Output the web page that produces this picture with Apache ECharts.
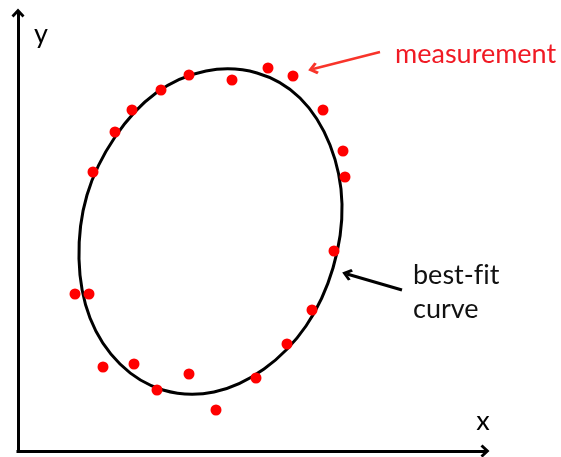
<!DOCTYPE html>
<html>
<head>
<meta charset="utf-8">
<script src="https://cdn.jsdelivr.net/npm/echarts@6/dist/echarts.min.js"></script>
<style>
  html, body { margin: 0; padding: 0; background: #fff; }
  #chart { width: 561px; height: 457px; }
</style>
</head>
<body>
<div id="chart"></div>
<script>
// red dots (measurements)
const measX = [75, 97, 114, 143, 171, 214, 250, 275, 305, 325, 327, 316, 294, 269, 238, 198, 171, 139, 116, 85, 71, 57]
const measY = [279, 319, 341, 361, 376, 371, 383, 375, 341, 300, 274, 200, 141, 107, 73, 41, 77, 61, 87, 84, 157, 157]

// points (closed loop)
const curveX = [239, 188, 138, 97, 69, 61, 72, 102, 145, 196, 246, 288, 315, 324, 312, 282]
const curveY = [378, 380, 358, 314, 256, 192, 133, 87, 61, 59, 82, 125, 183, 247, 306, 353]

// annotation arrows: [fromX, fromY, toX, toY]
const arrowMeas = [362, 399, 295, 382]
const arrowFit = [384, 161, 329, 177]

const chevron = 'path://M6.5,0 L13,7 L11,9 L6.5,4.2 L2,9 L0,7 Z'
const font = 'Lato'

const myChart = echarts.init(document.getElementById('chart'))

const option = {
  animation: false,
  grid: {
    left: 18,
    right: 76,
    top: 13,
    bottom: 6
  },
  xAxis: {
    type: 'value',
    min: 0,
    max: 467,
    axisLine: {
      show: true,
      symbol: ['none', chevron],
      symbolSize: [13, 10],
      lineStyle: { color: '#000', width: 3, cap: 'square' }
    },
    axisTick: { show: false },
    axisLabel: { show: false },
    splitLine: { show: false }
  },
  yAxis: {
    type: 'value',
    min: 0,
    max: 438,
    axisLine: {
      show: true,
      symbol: ['none', chevron],
      symbolSize: [13, 10],
      lineStyle: { color: '#000', width: 3, cap: 'square' }
    },
    axisTick: { show: false },
    axisLabel: { show: false },
    splitLine: { show: false }
  },
  series: [
    {
      type: 'custom',
      z: 2,
      silent: true,
      data: [[curveX[0], curveY[0]]],
      renderItem: function (params, api) {
        const pts = curveX.map((x, i) => api.coord([x, curveY[i]]))
        return {
          type: 'polygon',
          shape: { points: pts, smooth: 0.35 },
          style: { fill: 'none', stroke: '#000', lineWidth: 3 }
        }
      }
    },
    {
      type: 'scatter',
      z: 3,
      silent: true,
      symbolSize: 11,
      itemStyle: { color: '#ff0000', opacity: 1 },
      data: measX.map((x, i) => [x, measY[i]]),
      markLine: {
        silent: true,
        symbol: ['none', chevron],
        symbolSize: [12, 10],
        label: { show: false },
        data: [
          [
            { coord: [arrowMeas[0], arrowMeas[1]], lineStyle: { color: '#f8342a', width: 2.5, type: 'solid' } },
            { coord: [arrowMeas[2], arrowMeas[3]] }
          ],
          [
            { coord: [arrowFit[0], arrowFit[1]], lineStyle: { color: '#000', width: 3, type: 'solid' } },
            { coord: [arrowFit[2], arrowFit[3]] }
          ]
        ]
      }
    }
  ],
  graphic: [
    { type: 'text', x: 41, y: 34, style: { text: 'y', font: '27px ' + font, fill: '#000', align: 'center', verticalAlign: 'middle' } },
    { type: 'text', x: 483, y: 421, style: { text: 'x', font: '27px ' + font, fill: '#000', align: 'center', verticalAlign: 'middle' } },
    { type: 'text', x: 395, y: 54, style: { text: 'measurement', font: '27px ' + font, fill: '#f01a24', align: 'left', verticalAlign: 'middle' } },
    // zero-width non-joiner keeps "f" and "i" apart (no ligature)
    { type: 'text', x: 413, y: 275, style: { text: 'best-f\u200Cit', font: '27px ' + font, fill: '#111', align: 'left', verticalAlign: 'middle' } },
    { type: 'text', x: 413, y: 309, style: { text: 'curve', font: '27px ' + font, fill: '#111', align: 'left', verticalAlign: 'middle' } }
  ]
}

myChart.setOption(option)
</script>
</body>
</html>
